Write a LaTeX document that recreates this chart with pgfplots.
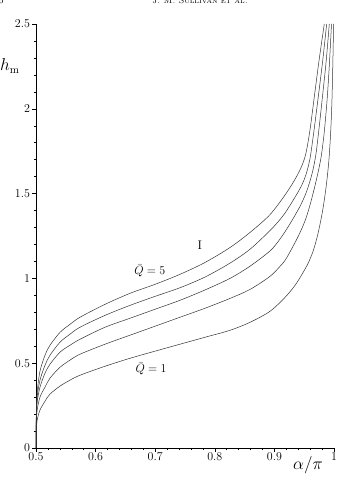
\documentclass[border=0pt]{standalone}
\usepackage{pgfplots}
\pgfplotsset{compat=1.18}
\begin{document}
\begin{tikzpicture}
\pgfplotsset{curve/.style={smooth, line width=0.5pt, black!80, no markers}}
\begin{axis}[
  name=ax,
  scale only axis,
  width=298pt, height=424pt,
  xmin=0.5, xmax=1, ymin=0, ymax=2.5,
  axis x line=bottom, axis y line=left,
  axis line style={-, line width=0.6pt},
  xtick={0.5,0.6,0.7,0.8,0.9,1},
  ytick={0,0.5,1,1.5,2,2.5},
  minor x tick num=4, minor y tick num=4,
  tick align=outside,
  major tick length=3.5pt, minor tick length=2.2pt,
  tick style={line width=0.5pt, black},
  tick label style={font=\fontsize{12}{14}\selectfont},
  xticklabel style={yshift=2pt},
  yticklabel style={xshift=1pt},
  clip=false,
]
% Q = 5
\addplot[curve] coordinates {
(0.5,0) (0.5005,0.2) (0.502,0.329) (0.5067,0.453) (0.5151,0.547) (0.5235,0.606) (0.5403,0.682) (0.557,0.729) (0.5738,0.771) (0.6158,0.847) (0.6577,0.912) (0.6997,0.965) (0.7416,1.024) (0.7836,1.094) (0.8255,1.182) (0.8591,1.271) (0.8926,1.376) (0.9195,1.500) (0.9362,1.594) (0.9463,1.666) (0.953,1.740) (0.9597,1.875) (0.9664,2.055) (0.9748,2.282) (0.9837,2.5)};
% Q = 4
\addplot[curve] coordinates {
(0.5,0) (0.5005,0.182) (0.502,0.3) (0.5067,0.4) (0.5151,0.488) (0.5235,0.547) (0.5403,0.624) (0.557,0.671) (0.5738,0.712) (0.6158,0.782) (0.6577,0.841) (0.6997,0.894) (0.7416,0.945) (0.7836,1.008) (0.8255,1.09) (0.8591,1.172) (0.8926,1.282) (0.9094,1.347) (0.9195,1.394) (0.9362,1.488) (0.9463,1.553) (0.953,1.612) (0.9597,1.706) (0.9664,1.871) (0.9732,2.059) (0.981,2.282) (0.9877,2.5)};
% Q = 3
\addplot[curve] coordinates {
(0.5,0) (0.5005,0.165) (0.502,0.271) (0.5067,0.359) (0.5151,0.441) (0.5235,0.494) (0.5403,0.565) (0.557,0.606) (0.5738,0.641) (0.6158,0.712) (0.6577,0.765) (0.6997,0.818) (0.7416,0.871) (0.7836,0.932) (0.8255,1.0) (0.8591,1.072) (0.8926,1.162) (0.9094,1.232) (0.9262,1.322) (0.943,1.425) (0.953,1.503) (0.9597,1.574) (0.9648,1.641) (0.9698,1.735) (0.9748,1.882) (0.9799,2.047) (0.9866,2.271) (0.9921,2.5)};
% Q = 2
\addplot[curve] coordinates {
(0.5,0) (0.5005,0.147) (0.502,0.224) (0.5067,0.3) (0.5151,0.359) (0.5235,0.412) (0.5403,0.476) (0.557,0.518) (0.5738,0.553) (0.6158,0.612) (0.6577,0.665) (0.6997,0.718) (0.7416,0.771) (0.7836,0.824) (0.8255,0.882) (0.8591,0.935) (0.8926,1.012) (0.9094,1.071) (0.9195,1.115) (0.9362,1.222) (0.9463,1.296) (0.953,1.355) (0.9597,1.432) (0.9664,1.522) (0.9732,1.624) (0.9782,1.712) (0.9832,1.847) (0.9883,2.047) (0.9921,2.253) (0.9958,2.5)};
% Q = 1
\addplot[curve] coordinates {
(0.5,0) (0.5005,0.1) (0.502,0.165) (0.5067,0.224) (0.5151,0.276) (0.5235,0.318) (0.5403,0.365) (0.557,0.4) (0.5738,0.429) (0.6158,0.482) (0.6577,0.529) (0.6997,0.571) (0.7416,0.612) (0.7836,0.653) (0.8255,0.694) (0.8591,0.741) (0.8926,0.806) (0.9178,0.888) (0.9346,0.959) (0.9463,1.024) (0.9564,1.088) (0.9648,1.159) (0.9715,1.241) (0.9765,1.318) (0.9815,1.412) (0.9866,1.535) (0.9911,1.682) (0.9941,1.841) (0.9963,2.018) (0.9978,2.224) (0.9988,2.4) (0.9993,2.5)};
\node[font=\fontsize{12.5}{14}\selectfont] at (axis cs:0.691,1.047) {$\bar{Q}=5$};
\node[font=\fontsize{12.5}{14}\selectfont] at (axis cs:0.693,0.465) {$\bar{Q}=1$};
\node[font=\fontsize{12.5}{14}\selectfont] at (axis cs:0.775,1.194) {I};
\node[font=\fontsize{16}{18}\selectfont] at (axis cs:0.9564,-0.1) {$\alpha/\pi$};
\node[font=\fontsize{16}{18}\selectfont] at (axis cs:0.456,2.253) {$h_{\mathrm{m}}$};
\end{axis}
\node[anchor=base, font=\fontsize{9}{10}\selectfont] at ([xshift=164pt,yshift=444pt]ax.south west) {\textsc{J. M. Sullivan et al.}};
\node[anchor=base east, font=\fontsize{9}{10}\selectfont] at ([xshift=-29pt,yshift=444pt]ax.south west) {16};
\pgfresetboundingbox
\useasboundingbox ([xshift=-36pt,yshift=-29pt]ax.south west) rectangle ([xshift=302pt,yshift=448pt]ax.south west);
\end{tikzpicture}
\end{document}
